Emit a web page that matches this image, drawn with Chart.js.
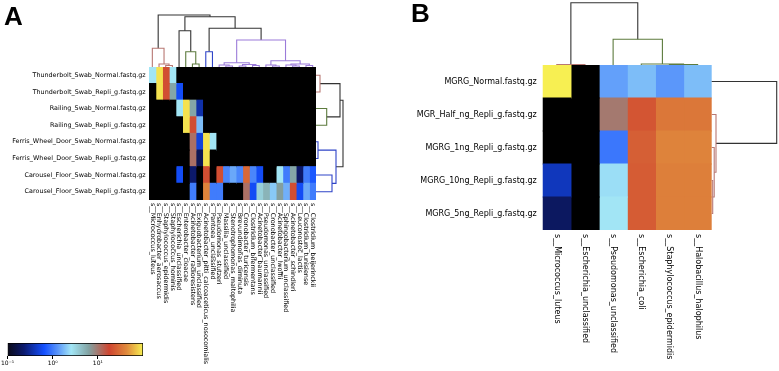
<!DOCTYPE html>
<html><head><meta charset="utf-8">
<script src="https://cdn.jsdelivr.net/npm/chart.js@4.4.0/dist/chart.umd.min.js"></script>
<style>
html,body{margin:0;padding:0;background:#fff;}
#wrap{position:relative;width:779px;height:371px;overflow:hidden;background:#fff;}
#wrap canvas{position:absolute;left:0;top:0;}
.lbl{position:absolute;font:bold 26px "Liberation Sans",Arial,sans-serif;line-height:26px;color:#000;}
</style></head><body>
<div id="wrap">
<canvas id="hmA" width="779" height="371"></canvas>
<canvas id="dtA" width="779" height="371"></canvas>
<canvas id="drA" width="779" height="371"></canvas>
<canvas id="cbA" width="779" height="371"></canvas>
<canvas id="hmB" width="779" height="371"></canvas>
<canvas id="dtB" width="779" height="371"></canvas>
<canvas id="drB" width="779" height="371"></canvas>
<div class="lbl" style="left:4px;top:3px">A</div>
<div class="lbl" style="left:411px;top:0px">B</div>
</div>
<script>
// ---------------- DATA ----------------
const rowsA = [
  "Thunderbolt_Swab_Normal.fastq.gz",
  "Thunderbolt_Swab_Repli_g.fastq.gz",
  "Railing_Swab_Normal.fastq.gz",
  "Railing_Swab_Repli_g.fastq.gz",
  "Ferris_Wheel_Door_Swab_Normal.fastq.gz",
  "Ferris_Wheel_Door_Swab_Repli_g.fastq.gz",
  "Carousel_Floor_Swab_Normal.fastq.gz",
  "Carousel_Floor_Swab_Repli_g.fastq.gz"
];
const colsA = [
  "s__Micrococcus_luteus","s__Enhydrobacter_aerosaccus","s__Staphylococcus_epidermidis",
  "s__Staphylococcus_hominis","s__Escherichia_unclassified","s__Enterobacter_cloacae",
  "s__Acinetobacter_radioresistens","s__Exiguobacterium_unclassified",
  "s__Acinetobacter_pitti_calcoaceticus_nosocomialis","s__Pantoea_unclassified",
  "s__Pseudomonas_stutzeri","s__Massilia_unclassified","s__Stenotrophomonas_maltophilia",
  "s__Brevundimonas_diminuta","s__Cronobacter_turicensis","s__Clostridium_bifermentans",
  "s__Acinetobacter_baumannii","s__Pseudomonas_unclassified","s__Cronobacter_unclassified",
  "s__Acinetobacter_lwoffii","s__Sphingobacterium_unclassified","s__Acinetobacter_schindleri",
  "s__Leuconostoc_lactis","s__Clostridium_tunisiense","s__Clostridium_beijerinckii"
];
// relative abundance (%) ; 0 = absent
const thunderboltNormal = [2.6,90,20,2.6,0,0,0,0,0,0,0,0,0,0,0,0,0,0,0,0,0,0,0,0,0];
const thunderboltRepli  = [0,90,20,6,0.6,0,0,0,0,0,0,0,0,0,0,0,0,0,0,0,0,0,0,0,0];
const railingNormal     = [0,0,0,0,2.6,90,6,0.35,0,0,0,0,0,0,0,0,0,0,0,0,0,0,0,0,0];
const railingRepli      = [0,0,0,0,0,90,20,1.8,0,0,0,0,0,0,0,0,0,0,0,0,0,0,0,0,0];
const ferrisNormal      = [0,0,0,0,0,0,11,0.5,90,2.6,0,0,0,0,0,0,0,0,0,0,0,0,0,0,0];
const ferrisRepli       = [0,0,0,0,0,0,11,0.18,90,0,0,0,0,0,0,0,0,0,0,0,0,0,0,0,0];
const carouselNormal    = [0,0,0,0,0.6,0,0.22,0,20,0,20,1.1,1.5,1.1,28,1.1,0.6,0,0,2.6,1.0,6,0.22,1.0,0.7];
const carouselRepli     = [0,0,0,0,0,0,1.0,0,40,1.0,1.0,0,0,0,11,0.6,3.5,5,2.0,6.5,1.6,20,0.6,1.5,1.0];
const valuesA = [thunderboltNormal,thunderboltRepli,railingNormal,railingRepli,ferrisNormal,ferrisRepli,carouselNormal,carouselRepli];

const rowsB = ["MGRG_Normal.fastq.gz","MGR_Half_ng_Repli_g.fastq.gz","MGRG_1ng_Repli_g.fastq.gz","MGRG_10ng_Repli_g.fastq.gz","MGRG_5ng_Repli_g.fastq.gz"];
const colsB = ["s__Micrococcus_luteus","s__Escherichia_unclassified","s__Pseudomonas_unclassified","s__Escherichia_coli","s__Staphylococcus_epidermidis","s__Halobacillus_halophilus"];
const mgrgNormal = [100,0,1.4,1.8,1.3,1.8];
const mgrHalf    = [0,0,10,22,34,34];
const mgrg1ng    = [0,0,0.95,25,40,40];
const mgrg10ng   = [0.4,0,2.4,24,38,38];
const mgrg5ng    = [0.2,0,2.6,24,38,38];
const valuesB = [mgrgNormal,mgrHalf,mgrg1ng,mgrg10ng,mgrg5ng];

const colorbarTicks = [0.1,1,10];
const colorbarLabels = ["10\u207B\u00B9","10\u2070","10\u00B9"];

// linkage trees: [left, right, height, colourGroup]; leaves = index
const treeColsA = [[0,[1,[2,3,1.5,'r'],3,'r'],18.7,'r'],
  [[4,[5,[6,7,3,'g'],15.3,'g'],36.3,'k'],
   [[8,9,15.3,'b'],
    [[[10,[11,12,1,'p'],2,'p'],[[13,14,1,'p'],[15,16,1.5,'p'],2.5,'p'],4.3,'p'],
     [[17,[18,19,1,'p'],2,'p'],[[20,[21,22,1,'p'],2,'p'],[23,24,1.5,'p'],3,'p'],6.3,'p'],27,'p'],38.7,'k'],50.3,'k'],52,'k'];
const treeRowsA = [[[0,1,4,'r'],[2,3,10.7,'g'],24,'k'],[[4,5,2,'b'],[6,7,16,'b'],20,'b'],27,'k'];
const treeColsB = [[0,1,0.5,'r'],[2,[3,[4,5,0.5,'g'],1,'g'],25.7,'g'],62.3,'k'];
const treeRowsB = [0,[1,[2,[3,4,1,'r'],2.5,'r'],4.3,'r'],65,'k'];

// ---------------- STYLE ----------------
Chart.defaults.font.family = '"DejaVu Sans", sans-serif';
const linkColors = {k:'#333333', r:'#b87873', g:'#5d7b3e', b:'#2f44c8', p:'#9b7bd9'};
const cmapStops = [[0,'#0b0b18'],[0.12,'#0c1a6e'],[0.27,'#1450ff'],[0.37,'#5a96fa'],[0.47,'#a2e6f6'],[0.6,'#82a2a2'],[0.75,'#cf4530'],[0.88,'#e08a3c'],[1,'#f7ef52']];
function hex(c){return [parseInt(c.substr(1,2),16),parseInt(c.substr(3,2),16),parseInt(c.substr(5,2),16)];}
function cmap(v){
  if(!(v>0)) return '#000000';
  let t=(Math.log10(v)+1)/3; t=Math.max(0,Math.min(1,t));
  for(let i=1;i<cmapStops.length;i++){
    if(t<=cmapStops[i][0]){
      const [t0,c0]=cmapStops[i-1],[t1,c1]=cmapStops[i];
      const f=(t-t0)/(t1-t0), a=hex(c0), b=hex(c1);
      return 'rgb('+a.map((x,k)=>Math.round(x+(b[k]-x)*f)).join(',')+')';
    }
  }
  return cmapStops[cmapStops.length-1][1];
}
const noPlug = {legend:{display:false},tooltip:{enabled:false}};

const colLabelPlugin = {
  id:'colLabels',
  afterDraw(chart, args, opts){
    const {ctx, chartArea, scales:{x}} = chart;
    ctx.save();
    ctx.font = opts.size+'px "DejaVu Sans"';
    ctx.fillStyle = '#000'; ctx.textAlign='left'; ctx.textBaseline='middle';
    chart.data.datasets.forEach((ds,i)=>{
      const px = x.getPixelForValue(i+0.5);
      ctx.save(); ctx.translate(px, chartArea.bottom+opts.gap); ctx.rotate(Math.PI/2);
      ctx.fillText(ds.label,0,0); ctx.restore();
    });
    ctx.restore();
  }
};

function heatmap(id, rows, cols, vals, pad, yWidth, fontSize, tickPad, colFont, colGap){
  const datasets = cols.map((name,c)=>({
    label:name, data: rows.map(()=>[c,c+1]),
    backgroundColor: rows.map((_,r)=>cmap(vals[r][c])),
    borderWidth:0, inflateAmount:0.6, grouped:false, barPercentage:1, categoryPercentage:1
  }));
  new Chart(document.getElementById(id), {
    type:'bar', data:{labels:rows, datasets},
    plugins:[colLabelPlugin],
    options:{indexAxis:'y', responsive:false, animation:false, events:[],
      layout:{padding:pad},
      plugins:{...noPlug, colLabels:{size:colFont, gap:colGap}},
      scales:{
        y:{type:'category', offset:true, grid:{display:false, drawTicks:false}, border:{display:false},
           ticks:{font:{size:fontSize}, color:'#000', padding:tickPad, autoSkip:false},
           afterFit(s){s.width=yWidth;}},
        x:{type:'linear', min:0, max:cols.length, display:false}
      }}
  });
}

function dendro(id, tree, orient, n, hmax, pad){
  const segs=[];
  (function walk(nd){
    if(typeof nd==='number') return {p:nd+0.5,h:0};
    const a=walk(nd[0]), b=walk(nd[1]), h=nd[2];
    segs.push({c:nd[3], pts:[[a.p,a.h],[a.p,h],[b.p,h],[b.p,b.h]]});
    return {p:(a.p+b.p)/2,h};
  })(tree);
  const datasets = segs.map(s=>({
    data: s.pts.map(([p,h])=>orient==='top'?{x:p,y:h}:{x:h,y:p}),
    borderColor: linkColors[s.c], borderWidth:1.1, pointRadius:0, showLine:true,
    fill:false, tension:0, clip:false
  }));
  const posScale = {type:'linear', min:0, max:n, display:false};
  const hScale = {type:'linear', min:0, max:hmax, display:false};
  new Chart(document.getElementById(id), {
    type:'scatter', data:{datasets},
    options:{responsive:false, animation:false, events:[], plugins:noPlug,
      layout:{padding:pad},
      scales: orient==='top' ? {x:posScale, y:hScale} : {x:hScale, y:{...posScale, reverse:true}}}
  });
}

// Panel A
heatmap('hmA', rowsA, colsA, valuesA, {left:0,right:463,top:67,bottom:171}, 149, 6.4, 3.3, 6.4, 3);
dendro('dtA', treeColsA, 'top', colsA.length, 67, {left:149,right:463,top:0,bottom:304});
dendro('drA', treeRowsA, 'right', rowsA.length, 60, {left:316,right:403,top:67,bottom:171});

// Colorbar
new Chart(document.getElementById('cbA'), {
  type:'bar',
  data:{labels:['scale'], datasets:[{data:[[0.1,100]],
    backgroundColor:(c)=>{const ca=c.chart.chartArea; if(!ca) return '#000';
      const g=c.chart.ctx.createLinearGradient(ca.left,0,ca.right,0);
      cmapStops.forEach(([t,col])=>g.addColorStop(t,col)); return g;},
    borderColor:'#000', borderWidth:1, borderSkipped:false, barPercentage:1, categoryPercentage:1}]},
  options:{indexAxis:'y', responsive:false, animation:false, events:[], plugins:noPlug,
    layout:{padding:{left:7,right:636,top:343,bottom:0}},
    scales:{
      y:{display:false},
      x:{type:'logarithmic', min:0.1, max:100, position:'bottom',
         grid:{display:true, drawOnChartArea:false, tickLength:3, color:'#000'}, border:{display:false},
         ticks:{font:{size:6}, color:'#000', padding:1, autoSkip:false, maxRotation:0,
           callback:(v)=>{const i=colorbarTicks.findIndex(t=>Math.abs(t-v)<1e-9); return i>=0?colorbarLabels[i]:'';}},
         afterBuildTicks(s){s.ticks=colorbarTicks.map(v=>({value:v}));},
         afterFit(s){s.height=15;}}
    }}
});

// Panel B
heatmap('hmB', rowsB, colsB, valuesB, {left:0,right:67.3,top:65,bottom:141}, 542.7, 8, 6, 8, 4);
dendro('dtB', treeColsB, 'top', colsB.length, 65, {left:542.7,right:67.3,top:0,bottom:306});
dendro('drB', treeRowsB, 'right', rowsB.length, 67.3, {left:711.7,right:0,top:65,bottom:141});
</script>
</body></html>
